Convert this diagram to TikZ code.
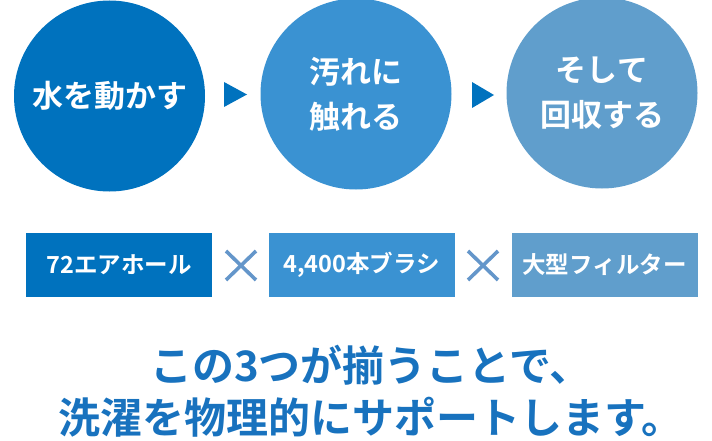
\documentclass[tikz,border=0pt]{standalone}
\usepackage{fontspec}
\setmainfont{Noto Sans CJK JP}[BoldFont={Noto Sans CJK JP Bold}]
\usetikzlibrary{positioning}

\definecolor{blueA}{RGB}{0,114,190}
\definecolor{blueB}{RGB}{58,146,210}
\definecolor{blueC}{RGB}{96,158,204}
\definecolor{crossblue}{RGB}{100,150,202}
\definecolor{textblue}{RGB}{24,114,190}

\tikzset{
    step circle/.style={circle, minimum size=191pt, inner sep=0pt, text=white,
        align=center, font=\bfseries\fontsize{31}{45}\selectfont},
    part box/.style={rectangle, minimum width=186pt, minimum height=64pt, inner sep=0pt,
        text=white, font=\bfseries\fontsize{23.5}{27}\selectfont},
    cross line/.style={crossblue, line width=3.6pt},
    claim/.style={text=textblue, inner sep=0pt, font=\bfseries\fontsize{42}{50}\selectfont}
}

\begin{document}
\begin{tikzpicture}[x=1pt, y=-1pt]
    \useasboundingbox (0, 0) rectangle (712, 441);

    % circles: centres 109.5, 356, 602 (spacing about 246)
    \node[step circle, fill=blueA] (move) at (109.5, 96) {水を動かす};
    \node[step circle, fill=blueB] (touch) at (356, 94) {汚れに\\触れる};
    \node[step circle, fill=blueC] (collect) at (602, 93) {そして\\回収する};

    % triangles between the circles
    \fill[blueA] (224, 82) -- (247, 94.5) -- (224, 107) -- cycle;
    \fill[blueA] (472, 82) -- (494, 95) -- (472, 108) -- cycle;

    % boxes: y 233 .. 297
    \node[part box, fill=blueA] (holes) at (119, 265) {72エアホール};
    \node[part box, fill=blueB] (brush) at (361.5, 265) {4,400本ブラシ};
    \node[part box, fill=blueC] (filter) at (604.5, 265) {大型フィルター};

    % crosses
    \draw[cross line] (226, 251) -- (256, 280);
    \draw[cross line] (226, 280) -- (256, 251);
    \draw[cross line] (468, 251) -- (498, 280);
    \draw[cross line] (468, 280) -- (498, 251);

    % closing lines
    \node[claim] (lineA) at (371, 365) {この3つが揃うことで、};
    \node[claim] (lineB) at (371, 417) {洗濯を物理的にサポートします。};
\end{tikzpicture}
\end{document}
